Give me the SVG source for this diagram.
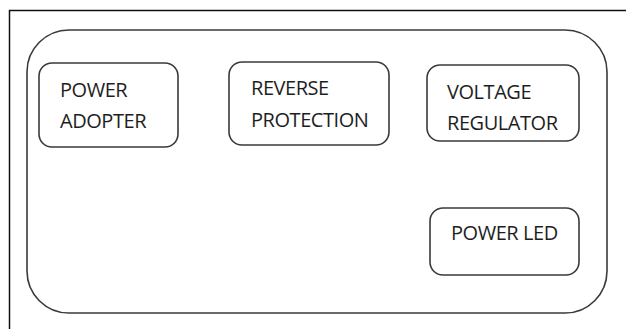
<svg xmlns="http://www.w3.org/2000/svg" width="626" height="329" viewBox="0 0 626 329">
<style>
.box{fill:#fff;stroke:#3a3a3a;stroke-width:1.6}
.t{font-family:"Open Sans",sans-serif;font-size:20px;fill:#1e1e1e;letter-spacing:-0.45px}
</style>
<rect width="626" height="329" fill="#fff"/>
<path d="M9.5 329 V10.5 H626" fill="none" stroke="#111" stroke-width="1.5"/>
<g id="container"><rect x="27" y="30" width="580" height="283" rx="42" ry="42" class="box"/></g>
<g id="power-adopter"><rect x="39" y="63" width="139" height="84" rx="13" class="box"/>
<text class="t" x="60" y="97">POWER</text><text class="t" x="60" y="128">ADOPTER</text></g>
<g id="reverse-protection"><rect x="229" y="62" width="160" height="83" rx="13" class="box"/>
<text class="t" x="251" y="95">REVERSE</text><text class="t" x="251" y="127">PROTECTION</text></g>
<g id="voltage-regulator"><rect x="427" y="65" width="152" height="76" rx="13" class="box"/>
<text class="t" x="447" y="99">VOLTAGE</text><text class="t" x="447" y="130">REGULATOR</text></g>
<g id="power-led"><rect x="430" y="208" width="149" height="67" rx="13" class="box"/>
<text class="t" x="451" y="240">POWER LED</text></g>
<g id="connectors"></g>
</svg>
